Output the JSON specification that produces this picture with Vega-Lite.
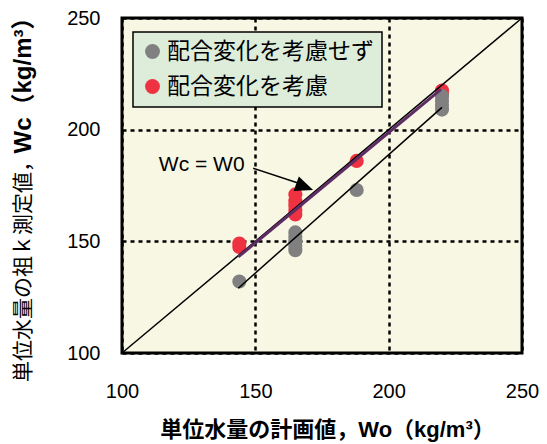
{
  "$schema": "https://vega.github.io/schema/vega-lite/v6.json",
  "width": 400,
  "height": 335,
  "autosize": {"type": "none"},
  "padding": {"left": 122, "top": 18, "right": 25, "bottom": 91},
  "background": "white",
  "config": {
    "view": {"fill": "#F8F7E3", "stroke": "#000000", "strokeWidth": 3},
    "font": "Liberation Sans"
  },
  "datasets": {
    "pts": [
      {"series": "配合変化を考慮", "Wo": 144, "Wc": 147.5},
      {"series": "配合変化を考慮", "Wo": 144, "Wc": 149},
      {"series": "配合変化を考慮", "Wo": 165, "Wc": 162},
      {"series": "配合変化を考慮", "Wo": 165, "Wc": 164},
      {"series": "配合変化を考慮", "Wo": 165, "Wc": 166},
      {"series": "配合変化を考慮", "Wo": 165, "Wc": 168},
      {"series": "配合変化を考慮", "Wo": 165, "Wc": 171},
      {"series": "配合変化を考慮", "Wo": 188, "Wc": 186},
      {"series": "配合変化を考慮", "Wo": 220, "Wc": 216},
      {"series": "配合変化を考慮", "Wo": 220, "Wc": 217.5},
      {"series": "配合変化を考慮せず", "Wo": 144, "Wc": 132},
      {"series": "配合変化を考慮せず", "Wo": 165, "Wc": 146},
      {"series": "配合変化を考慮せず", "Wo": 165, "Wc": 148},
      {"series": "配合変化を考慮せず", "Wo": 165, "Wc": 150},
      {"series": "配合変化を考慮せず", "Wo": 165, "Wc": 152},
      {"series": "配合変化を考慮せず", "Wo": 165, "Wc": 154},
      {"series": "配合変化を考慮せず", "Wo": 188, "Wc": 173},
      {"series": "配合変化を考慮せず", "Wo": 220, "Wc": 209},
      {"series": "配合変化を考慮せず", "Wo": 220, "Wc": 211},
      {"series": "配合変化を考慮せず", "Wo": 220, "Wc": 213},
      {"series": "配合変化を考慮せず", "Wo": 220, "Wc": 215}
    ],
    "lines": [
      {"line": "diag", "Wo": 100, "Wc": 100},
      {"line": "diag", "Wo": 250, "Wc": 250},
      {"line": "fitGray", "Wo": 143.6, "Wc": 129},
      {"line": "fitGray", "Wo": 220, "Wc": 210},
      {"line": "fitRed", "Wo": 143.6, "Wc": 143},
      {"line": "fitRed", "Wo": 219.6, "Wc": 218},
      {"line": "arrow", "Wo": 149.2, "Wc": 182.7},
      {"line": "arrow", "Wo": 166, "Wc": 176.1}
    ],
    "notes": [
      {"kind": "label", "Wo": 129.9, "Wc": 184.2, "text": "Wc = W0"},
      {"kind": "head", "Wo": 168.5, "Wc": 174.4, "text": ""}
    ]
  },
  "layer": [
    {
      "data": {"name": "pts"},
      "mark": {"type": "circle", "size": 200, "opacity": 1},
      "encoding": {
        "x": {
          "field": "Wo", "type": "quantitative",
          "scale": {"domain": [100, 250], "nice": false, "zero": false},
          "axis": {
            "values": [100, 150, 200, 250],
            "grid": true, "gridColor": "#000000", "gridDash": [4, 4], "gridWidth": 2.5, "gridOpacity": 1,
            "ticks": false, "domain": false, "labelFlush": false, "labelOverlap": false,
            "labelFontSize": 20, "labelColor": "#000000", "labelPadding": 28, "labelFont": "Liberation Sans",
            "title": "単位水量の計画値，Wo（kg/m³）",
            "titleFont": "Liberation Sans, Noto Sans CJK JP", "titleFontWeight": "bold", "titleFontSize": 22,
            "titleColor": "#000000", "titleX": 205, "titleY": 76, "titleAlign": "center", "titleBaseline": "middle"
          }
        },
        "y": {
          "field": "Wc", "type": "quantitative",
          "scale": {"domain": [100, 250], "nice": false, "zero": false},
          "axis": {
            "orient": "left",
            "values": [100, 150, 200, 250],
            "grid": true, "gridColor": "#000000", "gridDash": [4, 4], "gridWidth": 2.5, "gridOpacity": 1,
            "ticks": false, "domain": false, "labelFlush": false, "labelOverlap": false,
            "labelFontSize": 20, "labelColor": "#000000", "labelPadding": 22, "labelFont": "Liberation Sans",
            "labelAlign": "right", "labelBaseline": "middle",
            "title": "単位水量の祖ｋ測定値，",
            "titleFont": "Noto Sans CJK JP", "titleFontWeight": "normal", "titleFontSize": 21,
            "titleColor": "#000000", "titleX": -98.5, "titleY": 248, "titleAngle": -90,
            "titleAlign": "center", "titleBaseline": "middle"
          }
        },
        "color": {
          "field": "series", "type": "nominal",
          "scale": {"domain": ["配合変化を考慮せず", "配合変化を考慮"], "range": ["#808080", "#EE3242"]},
          "legend": {
            "orient": "none", "legendX": 11, "legendY": 14, "title": null,
            "fillColor": "#DDEDDA", "strokeColor": "#000000", "padding": 8,
            "labelFontSize": 23, "labelFont": "Noto Sans CJK JP", "labelColor": "#000000", "labelLimit": 400,
            "symbolSize": 220, "symbolType": "circle", "symbolStrokeWidth": 0, "symbolOpacity": 1,
            "rowPadding": 11, "labelOffset": 3,
            "encode": {"legend": {"update": {"strokeWidth": {"value": 1.5}}}}
          }
        }
      }
    },
    {
      "data": {"name": "lines"},
      "transform": [{"filter": "datum.line === 'diag'"}],
      "mark": {"type": "line", "color": "#000000", "strokeWidth": 1.5},
      "encoding": {
        "x": {"field": "Wo", "type": "quantitative"},
        "y": {
          "field": "Wc", "type": "quantitative",
          "axis": {
            "orient": "left", "labels": false, "ticks": false, "domain": false, "grid": false,
            "title": "Wc（kg/m³）",
            "titleFont": "Liberation Sans, Noto Sans CJK JP", "titleFontWeight": "bold", "titleFontSize": 24,
            "titleColor": "#000000", "titleX": -98.5, "titleY": 61, "titleAngle": -90,
            "titleAlign": "center", "titleBaseline": "middle"
          }
        }
      }
    },
    {
      "data": {"name": "lines"},
      "transform": [{"filter": "datum.line === 'fitGray'"}],
      "mark": {"type": "line", "color": "#000000", "strokeWidth": 1.5},
      "encoding": {
        "x": {"field": "Wo", "type": "quantitative"},
        "y": {"field": "Wc", "type": "quantitative", "axis": null}
      }
    },
    {
      "data": {"name": "lines"},
      "transform": [{"filter": "datum.line === 'fitRed'"}],
      "mark": {"type": "line", "color": "#5E2C64", "strokeWidth": 3},
      "encoding": {
        "x": {"field": "Wo", "type": "quantitative"},
        "y": {"field": "Wc", "type": "quantitative", "axis": null}
      }
    },
    {
      "data": {"name": "lines"},
      "transform": [{"filter": "datum.line === 'arrow'"}],
      "mark": {"type": "line", "color": "#000000", "strokeWidth": 1.5},
      "encoding": {
        "x": {"field": "Wo", "type": "quantitative"},
        "y": {"field": "Wc", "type": "quantitative", "axis": null}
      }
    },
    {
      "data": {"name": "notes"},
      "transform": [{"filter": "datum.kind === 'head'"}],
      "mark": {"type": "point", "shape": "M1,0L-1,-0.85L-1,0.85Z", "size": 324, "angle": 20, "filled": true, "color": "#000000", "opacity": 1},
      "encoding": {
        "x": {"field": "Wo", "type": "quantitative"},
        "y": {"field": "Wc", "type": "quantitative", "axis": null}
      }
    },
    {
      "data": {"name": "notes"},
      "transform": [{"filter": "datum.kind === 'label'"}],
      "mark": {"type": "text", "font": "Liberation Sans", "fontSize": 21, "color": "#000000", "align": "center", "baseline": "middle"},
      "encoding": {
        "x": {"field": "Wo", "type": "quantitative"},
        "y": {"field": "Wc", "type": "quantitative", "axis": null},
        "text": {"field": "text"}
      }
    }
  ],
  "resolve": {"axis": {"y": "independent"}}
}
